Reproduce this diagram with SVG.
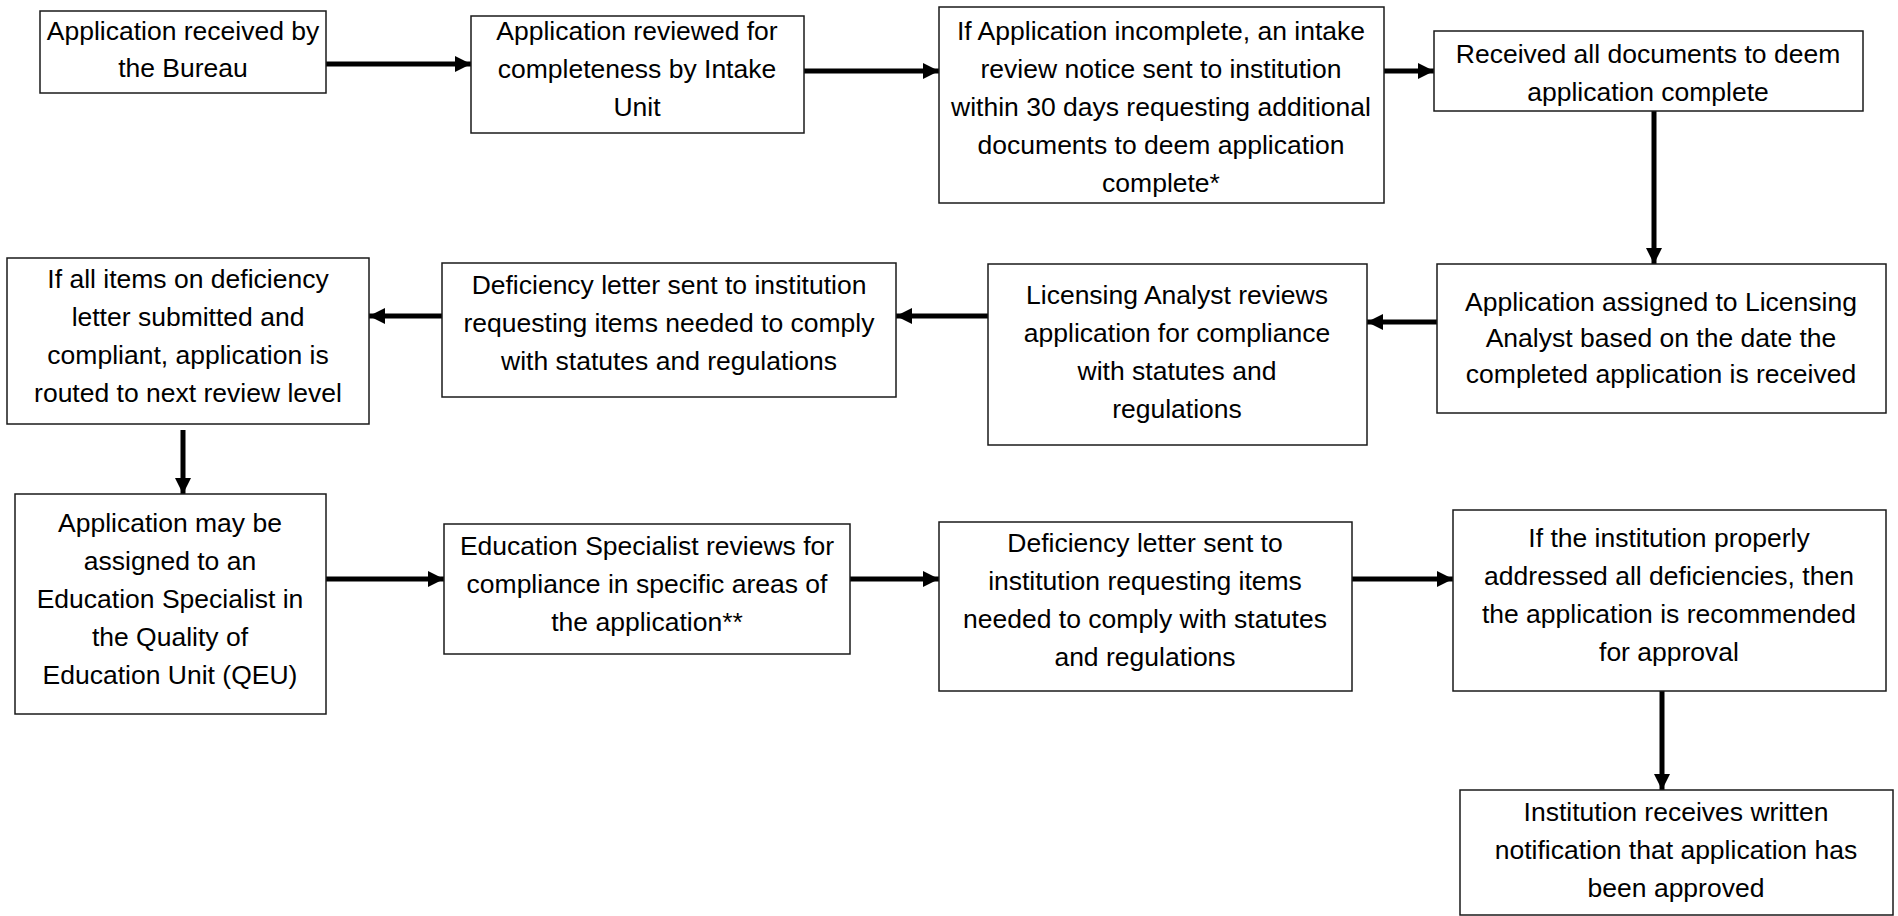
<svg xmlns="http://www.w3.org/2000/svg" width="1898" height="916" viewBox="0 0 1898 916">
<style>
.box{fill:#fff;stroke:#1a1a1a;stroke-width:1.5}
text{font-family:"Liberation Sans",Arial,sans-serif;font-size:26.5px;fill:#000;text-anchor:middle}
.ln{stroke:#000;stroke-width:5;fill:none}
</style>
<defs>
<marker id="ah" viewBox="0 0 10 10" refX="10" refY="5" markerWidth="3.2" markerHeight="3.2" orient="auto" markerUnits="strokeWidth">
<path d="M0,0 L10,5 L0,10 z" fill="#000"/>
</marker>
</defs>
<rect width="1898" height="916" fill="#fff"/>
<g id="connectors">
<line class="ln" x1="326" y1="64" x2="471" y2="64" marker-end="url(#ah)"/>
<line class="ln" x1="804" y1="71" x2="939" y2="71" marker-end="url(#ah)"/>
<line class="ln" x1="1384" y1="71" x2="1434" y2="71" marker-end="url(#ah)"/>
<line class="ln" x1="1654" y1="111" x2="1654" y2="264" marker-end="url(#ah)"/>
<line class="ln" x1="1437" y1="322" x2="1367" y2="322" marker-end="url(#ah)"/>
<line class="ln" x1="988" y1="316" x2="896" y2="316" marker-end="url(#ah)"/>
<line class="ln" x1="442" y1="316" x2="369" y2="316" marker-end="url(#ah)"/>
<line class="ln" x1="183" y1="430" x2="183" y2="494" marker-end="url(#ah)"/>
<line class="ln" x1="326" y1="579" x2="444" y2="579" marker-end="url(#ah)"/>
<line class="ln" x1="850" y1="579" x2="939" y2="579" marker-end="url(#ah)"/>
<line class="ln" x1="1352" y1="579" x2="1453" y2="579" marker-end="url(#ah)"/>
<line class="ln" x1="1662" y1="691" x2="1662" y2="790" marker-end="url(#ah)"/>
</g>
<g id="n1"><rect class="box" x="40" y="11" width="286" height="82"/>
<text x="183" y="40">Application received by</text><text x="183" y="77">the Bureau</text></g>
<g id="n2"><rect class="box" x="471" y="16" width="333" height="117"/>
<text x="637" y="40">Application reviewed for</text><text x="637" y="78">completeness by Intake</text><text x="637" y="116">Unit</text></g>
<g id="n3"><rect class="box" x="939" y="7" width="445" height="196"/>
<text x="1161" y="40">If Application incomplete, an intake</text><text x="1161" y="78">review notice sent to institution</text><text x="1161" y="116">within 30 days requesting additional</text><text x="1161" y="154">documents to deem application</text><text x="1161" y="192">complete*</text></g>
<g id="n4"><rect class="box" x="1434" y="31" width="429" height="80"/>
<text x="1648" y="63">Received all documents to deem</text><text x="1648" y="101">application complete</text></g>
<g id="n5"><rect class="box" x="1437" y="264" width="449" height="149"/>
<text x="1661" y="311">Application assigned to Licensing</text><text x="1661" y="347">Analyst based on the date the</text><text x="1661" y="383">completed application is received</text></g>
<g id="n6"><rect class="box" x="988" y="264" width="379" height="181"/>
<text x="1177" y="304">Licensing Analyst reviews</text><text x="1177" y="342">application for compliance</text><text x="1177" y="380">with statutes and</text><text x="1177" y="418">regulations</text></g>
<g id="n7"><rect class="box" x="442" y="263" width="454" height="134"/>
<text x="669" y="294">Deficiency letter sent to institution</text><text x="669" y="332">requesting items needed to comply</text><text x="669" y="370">with statutes and regulations</text></g>
<g id="n8"><rect class="box" x="7" y="258" width="362" height="166"/>
<text x="188" y="288">If all items on deficiency</text><text x="188" y="326">letter submitted and</text><text x="188" y="364">compliant, application is</text><text x="188" y="402">routed to next review level</text></g>
<g id="n9"><rect class="box" x="15" y="494" width="311" height="220"/>
<text x="170" y="532">Application may be</text><text x="170" y="570">assigned to an</text><text x="170" y="608">Education Specialist in</text><text x="170" y="646">the Quality of</text><text x="170" y="684">Education Unit (QEU)</text></g>
<g id="n10"><rect class="box" x="444" y="524" width="406" height="130"/>
<text x="647" y="555">Education Specialist reviews for</text><text x="647" y="593">compliance in specific areas of</text><text x="647" y="631">the application**</text></g>
<g id="n11"><rect class="box" x="939" y="522" width="413" height="169"/>
<text x="1145" y="552">Deficiency letter sent to</text><text x="1145" y="590">institution requesting items</text><text x="1145" y="628">needed to comply with statutes</text><text x="1145" y="666">and regulations</text></g>
<g id="n12"><rect class="box" x="1453" y="510" width="433" height="181"/>
<text x="1669" y="547">If the institution properly</text><text x="1669" y="585">addressed all deficiencies, then</text><text x="1669" y="623">the application is recommended</text><text x="1669" y="661">for approval</text></g>
<g id="n13"><rect class="box" x="1460" y="790" width="433" height="125"/>
<text x="1676" y="821">Institution receives written</text><text x="1676" y="859">notification that application has</text><text x="1676" y="897">been approved</text></g>
</svg>
